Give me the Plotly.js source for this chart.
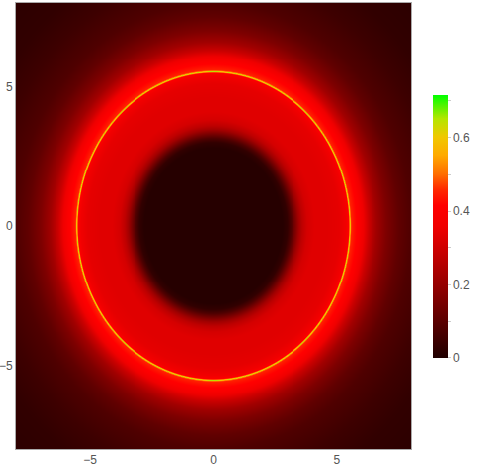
<!DOCTYPE html>
<html>
<head>
<meta charset="utf-8">
<script src="https://cdn.plot.ly/plotly-3.0.1.min.js"></script>
<style>html,body{margin:0;padding:0;background:#fff;}#plot{width:480px;height:469px;}</style>
</head>
<body>
<div id="plot"></div>
<script>
// Radial intensity profile (distance from centre -> value)
var profileRadius = [0, 2.8, 3.0, 3.15, 3.3, 3.45, 3.6, 3.8, 4.1, 4.6, 5.1, 5.35, 5.47, 5.51, 5.53, 5.55, 5.59, 5.7, 5.9, 6.1, 6.3, 6.6, 7.0, 7.5, 8.0, 9.0, 10.0, 11.4];
var profileValue  = [0.01, 0.01, 0.03, 0.08, 0.15, 0.22, 0.27, 0.31, 0.33, 0.33, 0.34, 0.36, 0.40, 0.52, 0.65, 0.52, 0.45, 0.43, 0.40, 0.35, 0.29, 0.22, 0.16, 0.11, 0.08, 0.05, 0.03, 0.02];
var xRange = [-8, 8];
var yRange = [-8, 8];
var axisTicks = [-5, 0, 5];
var cbTickVals = [0, 0.1, 0.2, 0.3, 0.4, 0.5, 0.6, 0.7];
var cbTickText = ['0', '', '0.2', '', '0.4', '', '0.6', ''];
var zMin = 0, zMax = 0.716;

function profileAt(r) {
  if (r <= profileRadius[0]) return profileValue[0];
  for (var i = 1; i < profileRadius.length; i++) {
    if (r <= profileRadius[i]) {
      var t = (r - profileRadius[i-1]) / (profileRadius[i] - profileRadius[i-1]);
      return profileValue[i-1] + t * (profileValue[i] - profileValue[i-1]);
    }
  }
  return profileValue[profileValue.length - 1];
}

var nx = 400, ny = 450;
var xs = [], ys = [], z = [];
for (var i = 0; i < nx; i++) xs.push(xRange[0] + (xRange[1] - xRange[0]) * (i + 0.5) / nx);
for (var j = 0; j < ny; j++) ys.push(yRange[0] + (yRange[1] - yRange[0]) * (j + 0.5) / ny);
for (var j = 0; j < ny; j++) {
  var row = [];
  for (var i = 0; i < nx; i++) row.push(profileAt(Math.sqrt(xs[i]*xs[i] + ys[j]*ys[j])));
  z.push(row);
}

var colorscale = [
  [0.00, 'rgb(32,0,0)'],
  [0.28, 'rgb(150,0,0)'],
  [0.50, 'rgb(240,0,0)'],
  [0.58, 'rgb(255,0,0)'],
  [0.64, 'rgb(255,40,0)'],
  [0.70, 'rgb(255,110,0)'],
  [0.77, 'rgb(255,170,0)'],
  [0.84, 'rgb(240,200,0)'],
  [0.91, 'rgb(180,230,0)'],
  [1.00, 'rgb(0,255,0)']
];

var trace = {
  type: 'heatmap', x: xs, y: ys, z: z,
  zmin: zMin, zmax: zMax, zsmooth: false,
  colorscale: colorscale,
  hoverinfo: 'skip',
  colorbar: {
    x: 1.055, xanchor: 'left', y: 0.499, yanchor: 'middle',
    len: 263, lenmode: 'pixels', thickness: 15, thicknessmode: 'pixels',
    outlinewidth: 0, xpad: 0, ypad: 0,
    tickmode: 'array', tickvals: cbTickVals, ticktext: cbTickText,
    ticks: 'outside', ticklen: 3, tickcolor: '#ccc',
    tickfont: {family: 'Liberation Sans, Arial, sans-serif', size: 12, color: '#555'}
  }
};

var axisCommon = {
  showgrid: false, zeroline: false,
  showline: true, mirror: true, linecolor: '#aaa', linewidth: 1,
  ticks: '', tickmode: 'array', tickvals: axisTicks,
  tickfont: {family: 'Liberation Sans, Arial, sans-serif', size: 12, color: '#555'}
};

var layout = {
  width: 480, height: 469,
  margin: {l: 16, r: 69, t: 3, b: 20},
  paper_bgcolor: '#fff', plot_bgcolor: '#fff',
  xaxis: Object.assign({}, axisCommon, {range: xRange}),
  yaxis: Object.assign({}, axisCommon, {range: yRange}),
  showlegend: false
};

Plotly.newPlot('plot', [trace], layout, {displayModeBar: false, staticPlot: true});
</script>
</body>
</html>
